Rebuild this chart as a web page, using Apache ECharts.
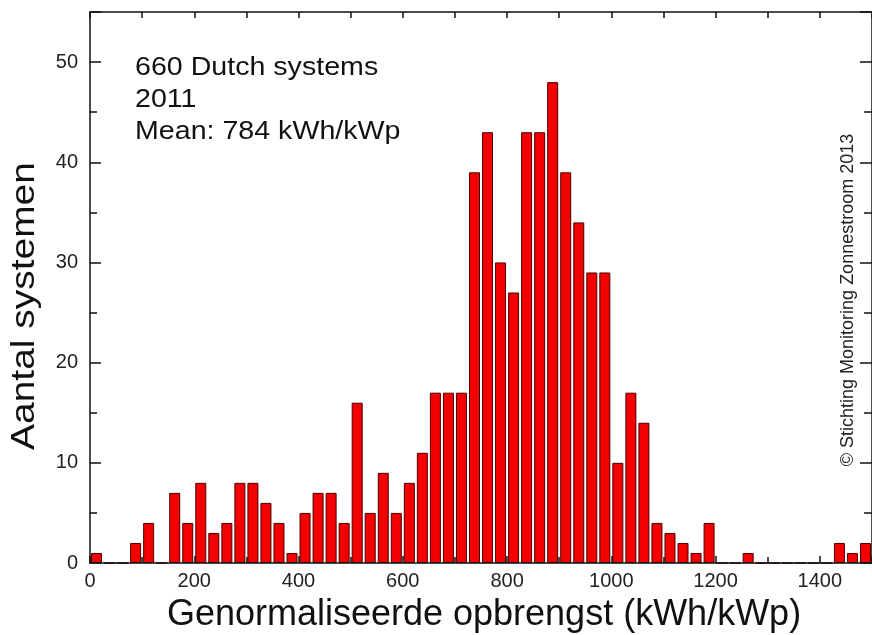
<!DOCTYPE html>
<html>
<head>
<meta charset="utf-8">
<script src="https://cdn.jsdelivr.net/npm/echarts@6/dist/echarts.min.js"></script>
<style>html,body{margin:0;padding:0;background:#fff}#c{width:872px;height:635px}</style>
</head>
<body>
<div id="c"></div>
<script>
// Bin width 25 kWh/kWp; bins start at 0
const binWidth = 25;
const counts = [1,0,0,2,4,0,7,4,8,3,4,8,8,6,4,1,5,7,7,4,16,5,9,5,8,11,17,17,17,39,43,30,27,43,43,48,39,34,29,29,10,17,14,4,3,2,1,4,0,0,1,0,0,0,0,0,0,2,1,2];
const xTicks = [0,200,400,600,800,1000,1200,1400];
const yTicks = [0,10,20,30,40,50];
const infoLines = ['660 Dutch systems','2011','Mean: 784 kWh/kWp'];
const yTitle = 'Aantal systemen';
const xTitle = 'Genormaliseerde opbrengst (kWh/kWp)';
const credit = '\u00A9 Stichting Monitoring Zonnestroom 2013';

const data = counts.map((v,i)=>[i*binWidth + binWidth/2, v]);
const font = 'Arial, "Liberation Sans", sans-serif';
const chart = echarts.init(document.getElementById('c'));
const axisLine = {show:true, onZero:false, lineStyle:{color:'#111', width:1.5}};
const tickStyle = {color:'#111', width:1.5};
chart.setOption({
  animation:false,
  grid:{left:90, top:12, right:-6, bottom:72},
  xAxis:[{
    type:'value', min:0, max:1500, interval:200, position:'bottom', z:5,
    axisLine:axisLine,
    axisTick:{show:true, inside:true, length:7, lineStyle:tickStyle},
    minorTick:{show:true, splitNumber:2, length:6, lineStyle:tickStyle},
    splitLine:{show:false},
    axisLabel:{color:'#222', fontSize:20, fontFamily:font, margin:8, showMaxLabel:false,
      formatter:v=>xTicks.includes(v)?String(v):''}
  },{
    type:'value', min:0, max:1500, interval:100, position:'top', z:5,
    axisLine:axisLine,
    axisTick:{show:true, inside:true, length:6, lineStyle:tickStyle},
    splitLine:{show:false}, axisLabel:{show:false}
  }],
  yAxis:[{
    type:'value', min:0, max:55, interval:10, position:'left', z:5,
    axisLine:axisLine,
    axisTick:{show:true, inside:true, length:11, lineStyle:tickStyle},
    minorTick:{show:true, splitNumber:2, length:7, lineStyle:tickStyle},
    splitLine:{show:false},
    axisLabel:{color:'#222', fontSize:20, fontFamily:font, margin:12, showMaxLabel:false,
      formatter:v=>yTicks.includes(v)?String(v):''}
  },{
    type:'value', min:0, max:55, interval:10, position:'right', z:5,
    axisLine:axisLine,
    axisTick:{show:true, inside:true, length:12, lineStyle:tickStyle},
    minorTick:{show:true, splitNumber:2, length:8, lineStyle:tickStyle},
    splitLine:{show:false}, axisLabel:{show:false}
  }],
  series:[{
    type:'bar', xAxisIndex:0, yAxisIndex:0, data:data, barWidth:11,
    itemStyle:{color:'#f40000', borderColor:'#4a0000', borderWidth:1}
  }],
  graphic:[
    ...infoLines.map((t,i)=>({type:'text', x:135, y:68+i*32, scaleX:1.1,
      style:{text:t, fontSize:26, fontFamily:font, fill:'#111', verticalAlign:'middle'}})),
    {type:'text', x:25, y:306, rotation:Math.PI/2, scaleX:1.18,
      style:{text:yTitle, fontSize:33, fontFamily:font, fill:'#111', align:'center', verticalAlign:'middle'}},
    {type:'text', x:484, y:615,
      style:{text:xTitle, fontSize:36, fontFamily:font, fill:'#111', align:'center', verticalAlign:'middle'}},
    {type:'text', x:848, y:300, rotation:Math.PI/2,
      style:{text:credit, fontSize:18, fontFamily:font, fill:'#222', align:'center', verticalAlign:'middle'}}
  ]
});
</script>
</body>
</html>
